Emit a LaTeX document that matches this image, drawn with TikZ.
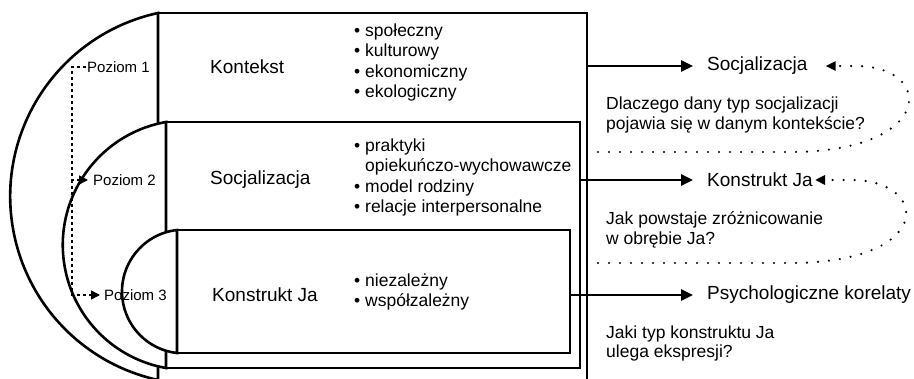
\documentclass[tikz,border=0pt]{standalone}
\usepackage{fontspec}
\setmainfont{Liberation Sans}
\usetikzlibrary{positioning,arrows.meta}

\begin{document}
\begin{tikzpicture}[x=1pt, y=1pt,
  lvlbox/.style={draw, fill=white, line width=2.6pt, shape=rectangle, anchor=north west, inner sep=0pt, outer sep=0pt},
  lvlarc/.style={draw, fill=white, line width=2.6pt},
  big/.style={font=\fontsize{19}{22}\selectfont, inner sep=0pt, anchor=west},
  items/.style={font=\fontsize{17.5}{20.5}\selectfont, inner sep=0pt, anchor=base west, align=left},
  quest/.style={font=\fontsize{17.5}{20}\selectfont, inner sep=0pt, anchor=base west, align=left},
  lvl/.style={font=\fontsize{15}{17}\selectfont, inner sep=1pt, anchor=west},
  flow/.style={line width=2.6pt, -{Triangle[length=12pt,width=11pt]}, shorten >=14pt},
  back/.style={line width=2.4pt, line cap=round, dash pattern=on 0pt off 11pt, -{Triangle[length=10pt,width=9pt]}},
  lvlflow/.style={line width=1.5pt, dash pattern=on 3pt off 3pt, -{Triangle[length=9pt,width=9pt]}}]
\clip (0,0) rectangle (914,378);

% three nested levels
\node[lvlbox, minimum width=429pt, minimum height=367pt] (ctx) at (158,365) {};
\draw[lvlarc] (ctx.north west) arc[start angle=102.3, end angle=257.7, radius=187.8] -- cycle;
\node[lvlbox, minimum width=414pt, minimum height=246pt] (soc) at (166,256) {};
\draw[lvlarc] (soc.north west) arc[start angle=100, end angle=260, radius=124.9] -- cycle;
\node[lvlbox, minimum width=393pt, minimum height=123pt] (self) at (177,148) {};
\draw[lvlarc] (self.north west) arc[start angle=96.4, end angle=263.6, radius=61.9] -- cycle;

% names inside the boxes
\node[big] (ctxL) at (210,311) {Kontekst};
\node[big] (socL) at (210,198) {Socjalizacja};
\node[big] (selfL) at (212,83) {Konstrukt Ja};

% lists (anchored at the last line)
\node[items] (ctxI) at (354,280) {• społeczny\\• kulturowy\\• ekonomiczny\\• ekologiczny};
\node[items] (socI) at (354,165) {• praktyki\\\hphantom{• }opiekuńczo-wychowawcze\\• model rodziny\\• relacje interpersonalne};
\node[items] (selfI) at (354,71) {• niezależny\\• współzależny};

% levels
\node[lvl] (p1) at (86,311) {Poziom 1};
\node[lvl] (p2) at (92,198) {Poziom 2};
\node[lvl] (p3) at (103,83) {Poziom 3};
\coordinate (turn) at ([xshift=-14pt]p1.west);
\draw[lvlflow, shorten >=4pt] (p1.west) -- (turn) |- (p2.west);
\draw[lvlflow, shorten >=3pt] (turn |- p2.west) |- (p3.west);

% outcomes
\node[big] (socR) at (707,312) {Socjalizacja};
\node[big] (selfR) at (707,198) {Konstrukt Ja};
\node[big] (psyR) at (707,83) {Psychologiczne korelaty};

\node[quest] (q1) at (606,248) {Dlaczego dany typ socjalizacji\\pojawia się w danym kontekście?};
\node[quest] (q2) at (606,133) {Jak powstaje zróżnicowanie\\w obrębie Ja?};
\node[quest] (q3) at (606,20) {Jaki typ konstruktu Ja\\ulega ekspresji?};

\draw[flow] (ctx.east |- socR.west) -- (socR.west);
\draw[flow] (soc.east |- selfR.west) -- (selfR.west);
\draw[flow] (self.east |- psyR.west) -- (psyR.west);

\coordinate (r1) at (790,226);
\coordinate (r2) at (790,115);
\draw[back, shorten >=18pt] (ctx.east |- r1) -- (r1) .. controls +(145,0) and +(80,0) .. ([xshift=48pt]socR.east) -- (socR.east);
\draw[back, shorten >=2pt] (ctx.east |- r2) -- (r2) .. controls +(145,0) and +(80,0) .. ([xshift=38pt]selfR.east) -- (selfR.east);
\end{tikzpicture}
\end{document}
